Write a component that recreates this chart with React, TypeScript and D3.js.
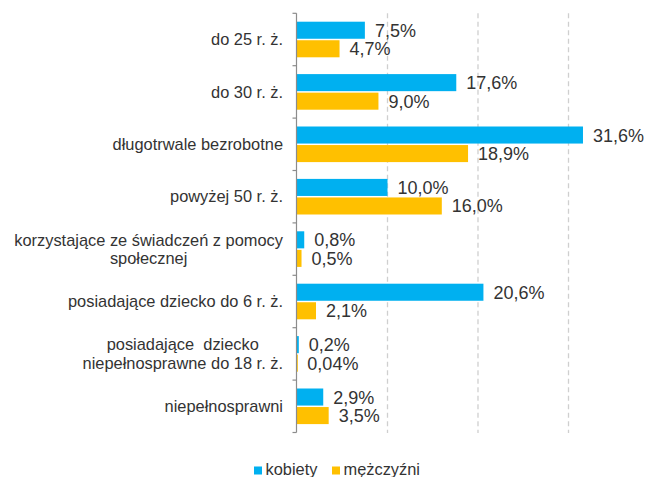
import React, { useEffect, useRef } from "react";
import * as d3 from "d3";

const categories: string[][] = [
  ["do 25 r. ż."],
  ["do 30 r. ż."],
  ["długotrwale bezrobotne"],
  ["powyżej 50 r. ż."],
  ["korzystające ze świadczeń z pomocy", "społecznej"],
  ["posiadające dziecko do 6 r. ż."],
  ["posiadające  dziecko", "niepełnosprawne do 18 r. ż."],
  ["niepełnosprawni"],
];
const kobiety = [7.5, 17.6, 31.6, 10.0, 0.8, 20.6, 0.2, 2.9];
const mezczyzni = [4.7, 9.0, 18.9, 16.0, 0.5, 2.1, 0.04, 3.5];
const kobietyLabels = ["7,5%", "17,6%", "31,6%", "10,0%", "0,8%", "20,6%", "0,2%", "2,9%"];
const mezczyzniLabels = ["4,7%", "9,0%", "18,9%", "16,0%", "0,5%", "2,1%", "0,04%", "3,5%"];
const seriesNames = ["kobiety", "mężczyźni"];
const gridTicks = [10, 20, 30];

const W = 652;
const H = 477;
const BLUE = "#00B0F0";
const ORANGE = "#FFC000";
const FONT = "'Liberation Sans', Arial, sans-serif";
const TEXT = "#333333";

export default function App() {
  const ref = useRef<SVGSVGElement>(null);
  useEffect(() => {
    const svg = d3.select(ref.current);
    svg.selectAll("*").remove();
    const idx = categories.map((_, i) => String(i));
    const x = d3.scaleLinear().domain([0, 35]).range([297, 297 + 9.05 * 35]);
    const y = d3.scaleBand().domain(idx).range([13.3, 432.5]).padding(0);
    const sub = d3.scaleBand().domain(["k", "m"]).range([8.4, 44]).paddingInner(0.08);

    // gridlines
    svg.append("g")
      .selectAll("line")
      .data(gridTicks)
      .join("line")
      .attr("x1", (d) => x(d))
      .attr("x2", (d) => x(d))
      .attr("y1", 13.3)
      .attr("y2", 433)
      .attr("stroke", "#cfcfcf")
      .attr("stroke-width", 1.3)
      .attr("stroke-dasharray", "5,3.5");

    // bars
    const series = [
      { key: "k", vals: kobiety, labels: kobietyLabels, color: BLUE },
      { key: "m", vals: mezczyzni, labels: mezczyzniLabels, color: ORANGE },
    ];
    series.forEach((s) => {
      const g = svg.append("g");
      g.selectAll("rect")
        .data(s.vals)
        .join("rect")
        .attr("x", x(0))
        .attr("y", (_, i) => (y(String(i)) as number) + (sub(s.key) as number))
        .attr("width", (d) => Math.max(x(d) - x(0), 0.8))
        .attr("height", sub.bandwidth())
        .attr("fill", s.color);
      g.selectAll("text")
        .data(s.vals)
        .join("text")
        .attr("x", (d) => x(d) + 10)
        .attr("y", (_, i) => (y(String(i)) as number) + (sub(s.key) as number) + sub.bandwidth() / 2)
        .attr("dy", "0.36em")
        .attr("font-family", FONT)
        .attr("font-size", 18)
        .attr("fill", TEXT)
        .text((_, i) => s.labels[i]);
    });

    // axis
    const axis = svg.append("g");
    axis.append("line")
      .attr("x1", 296.5).attr("x2", 296.5)
      .attr("y1", y.range()[0]).attr("y2", y.range()[1])
      .attr("stroke", "#8c8c8c").attr("stroke-width", 1.2);
    const boundaries = idx.map((i) => y(i) as number).concat([y.range()[1]]);
    axis.selectAll("line.tick")
      .data(boundaries)
      .join("line")
      .attr("class", "tick")
      .attr("x1", 292.5).attr("x2", 296.5)
      .attr("y1", (d) => d).attr("y2", (d) => d)
      .attr("stroke", "#8c8c8c").attr("stroke-width", 1.2);

    // category labels
    const lineH = 18.3;
    categories.forEach((lines, i) => {
      const cy = (y(String(i)) as number) + y.bandwidth() / 2;
      const t = svg.append("text")
        .attr("font-family", FONT)
        .attr("font-size", 16.4)
        .attr("fill", TEXT)
        .style("white-space", "pre");
      const n = lines.length;
      const tspans = lines.map((ln, j) =>
        t.append("tspan")
          .attr("y", cy + (j - (n - 1) / 2) * lineH)
          .attr("dy", "0.35em")
          .text(ln)
      );
      if (n === 1) {
        t.attr("text-anchor", "end");
        tspans.forEach((ts) => ts.attr("x", 283));
      } else {
        let maxW = 0;
        tspans.forEach((ts) => {
          const node = ts.node() as SVGTSpanElement;
          maxW = Math.max(maxW, node.getComputedTextLength());
        });
        t.attr("text-anchor", "middle");
        tspans.forEach((ts) => ts.attr("x", 283 - maxW / 2));
      }
    });

    // legend
    const lg = svg.append("g");
    const legendX = [254, 332];
    seriesNames.forEach((name, i) => {
      lg.append("rect")
        .attr("x", legendX[i]).attr("y", 466.5)
        .attr("width", 8).attr("height", 8)
        .attr("fill", i === 0 ? BLUE : ORANGE);
      lg.append("text")
        .attr("x", legendX[i] + 11.5).attr("y", 475)
        .attr("font-family", FONT).attr("font-size", 16.4)
        .attr("fill", TEXT)
        .text(name);
    });
  }, []);
  return (
    <svg
      ref={ref}
      width={W}
      height={H}
      style={{ position: "absolute", left: 0, top: 0, background: "#fff" }}
    />
  );
}
